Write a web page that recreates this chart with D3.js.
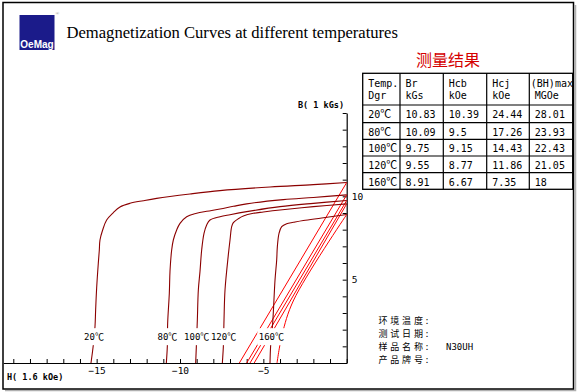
<!DOCTYPE html>
<html>
<head>
<meta charset="utf-8">
<script src="https://cdn.jsdelivr.net/npm/d3@7"></script>
<style>
  body { margin: 0; background: #fff; }
  svg { display: block; }
</style>
</head>
<body>
<div id="chart"></div>
<script>
// temperatures, one curve pair each
var temps = ["20℃", "80℃", "100℃", "120℃", "160℃"];

// intrinsic curves (H in 1.6 kOe, B in kGs)
var intrinsic20 = [[0, 10.83], [-2, 10.7], [-4.6, 10.56], [-7.6, 10.34], [-9.4, 10.14], [-11.4, 9.88],
    [-12.2, 9.74], [-13.0, 9.58], [-13.6, 9.36], [-14.0, 9.02], [-14.4, 8.58], [-14.64, 7.98],
    [-14.8, 7.38], [-14.84, 6.78], [-14.9, 6.0], [-15.0, 4.5], [-15.06, 3.2], [-15.1, 2.18],
    [-15.2, 1.08], [-15.34, 0]];
var intrinsic80 = [[0, 10.09], [-2, 9.93], [-3.8, 9.8], [-6, 9.55], [-6.8, 9.4], [-7.6, 9.24],
    [-8.4, 9.1], [-9.0, 8.98], [-9.6, 8.78], [-10.0, 8.38], [-10.2, 7.98], [-10.4, 7.38],
    [-10.5, 6.78], [-10.6, 5.5], [-10.64, 4.2], [-10.74, 2.4], [-10.76, 1.0], [-10.82, 0]];
var intrinsic100 = [[0, 9.75], [-2, 9.58], [-4, 9.38], [-6, 9.08], [-7, 8.9], [-7.6, 8.78],
    [-8.2, 8.58], [-8.4, 8.28], [-8.56, 7.78], [-8.7, 6.78], [-8.8, 5.5], [-8.9, 4.38],
    [-8.96, 2.58], [-9.02, 0.98], [-9.06, 0]];
var intrinsic120 = [[0, 9.55], [-2, 9.38], [-4, 9.18], [-5, 9.06], [-5.6, 8.98], [-6.2, 8.82],
    [-6.5, 8.66], [-6.8, 8.42], [-6.9, 8.18], [-7.0, 7.38], [-7.1, 6.5], [-7.3, 4.38],
    [-7.36, 2.58], [-7.4, 0.98], [-7.46, 0]];
var intrinsic160 = [[0, 8.91], [-1.5, 8.7], [-2.6, 8.55], [-3.2, 8.44], [-3.6, 8.36], [-3.9, 8.18],
    [-4.06, 7.78], [-4.16, 6.98], [-4.2, 6.18], [-4.3, 4.98], [-4.44, 2.38], [-4.56, 1.08],
    [-4.6, 0]];

// normal curves
var normal20 = [[-6.44, 0], [0, 10.83]];
var normal80 = [[-6.0, 0], [0, 10.09]];
var normal100 = [[-5.8, 0], [0, 9.75]];
var normal120 = [[-5.55, 0], [0, 9.55]];
var normal160 = [[-4.18, 0], [-3.88, 1.68], [-3.18, 3.78], [0, 8.91]];

var xTicks = d3.range(-20, 1);
var xLabels = [-15, -10, -5];
var yTicks = d3.range(0, 16);
var yLabels = [5, 10];

// result table
var tableHead1 = ["Temp.", "Br", "Hcb", "Hcj", "(BH)max"];
var tableHead2 = ["Dgr", "kGs", "kOe", "kOe", "MGOe"];
var colBr = ["10.83", "10.09", "9.75", "9.55", "8.91"];
var colHcb = ["10.39", "9.5", "9.15", "8.77", "6.67"];
var colHcj = ["24.44", "17.26", "14.43", "11.86", "7.35"];
var colBH = ["28.01", "23.93", "22.43", "21.05", "18"];

var infoLabels = ["环境温度:", "测试日期:", "样品名称:", "产品牌号:"];
var infoValues = ["", "", "N30UH", ""];

var w = 577, h = 392;
var mono = "'DejaVu Sans Mono', 'Liberation Mono', monospace";
var cjk = "'Noto Sans CJK SC', sans-serif";

var svg = d3.select("#chart").append("svg")
    .attr("width", w)
    .attr("height", h);

svg.append("rect").attr("width", w).attr("height", h).attr("fill", "#fff");

// frame with a little shadow
svg.append("path")
    .attr("d", "M575.5,5 V390.5 H5")
    .attr("fill", "none").attr("stroke", "#b0b0b0").attr("stroke-width", 1.5);
svg.append("rect")
    .attr("x", 3).attr("y", 2.5).attr("width", 570.5).attr("height", 386.5)
    .attr("fill", "none").attr("stroke", "#000").attr("stroke-width", 1.5);

// logo + title
svg.append("rect").attr("x", 19.5).attr("y", 15).attr("width", 35).attr("height", 35).attr("fill", "#1b1b8a");
svg.append("text").attr("x", 37).attr("y", 47.5).attr("text-anchor", "middle")
    .style("font-family", "'Liberation Sans', Arial, sans-serif").style("font-weight", "bold")
    .style("font-size", "10px").attr("fill", "#fff").text("OeMag");
svg.append("text").attr("x", 55.5).attr("y", 15).style("font-size", "5px").attr("fill", "#888").text("®");
svg.append("text").attr("x", 66.5).attr("y", 38)
    .style("font-family", "'Liberation Serif', 'Times New Roman', serif")
    .style("font-size", "16.6px").attr("fill", "#000")
    .text("Demagnetization Curves at different temperatures");

// scales
var x = d3.scaleLinear().domain([-20.6, 0]).range([3.3, 346.7]);
var y = d3.scaleLinear().domain([0, 15]).range([363, 113]);

var xAxis = svg.append("g").attr("transform", "translate(0," + y(0) + ")");
xAxis.call(d3.axisTop(x).tickValues(xTicks).tickSize(4).tickFormat("").tickSizeOuter(0));
var xLab = svg.append("g").attr("transform", "translate(0," + y(0) + ")");
xLab.call(d3.axisBottom(x).tickValues(xLabels).tickSize(0).tickPadding(4));
xLab.select(".domain").remove();

var yAxis = svg.append("g").attr("transform", "translate(" + x(0) + ",0)");
yAxis.call(d3.axisLeft(y).tickValues(yTicks).tickSize(4).tickFormat("").tickSizeOuter(0));
var yLab = svg.append("g").attr("transform", "translate(" + x(0) + ",0)");
yLab.call(d3.axisRight(y).tickValues(yLabels).tickSize(0).tickPadding(5));
yLab.select(".domain").remove();

svg.selectAll(".domain").attr("stroke", "#000").attr("stroke-width", 1.2);
svg.selectAll(".tick line").attr("stroke", "#000");
svg.selectAll(".tick text").attr("fill", "#000")
    .style("font-family", mono).style("font-size", "9.5px");

svg.append("text").attr("x", 7).attr("y", 380)
    .style("font-family", mono).style("font-size", "8.5px").style("font-weight", "bold")
    .text("H( 1.6 kOe)");
svg.append("text").attr("x", 298).attr("y", 107.5)
    .style("font-family", mono).style("font-size", "8.5px").style("font-weight", "bold")
    .text("B( 1 kGs)");

// curves
var line = d3.line()
    .x(d => x(d[0]))
    .y(d => y(d[1]))
    .curve(d3.curveCatmullRom.alpha(0.5));

var intrinsic = [intrinsic20, intrinsic80, intrinsic100, intrinsic120, intrinsic160];
var normal = [normal20, normal80, normal100, normal120, normal160];

svg.selectAll("path.normal")
    .data(normal)
    .enter()
    .append("path")
    .attr("class", "normal")
    .attr("d", line)
    .attr("fill", "none")
    .attr("stroke", "#ff0000")
    .attr("stroke-width", 1);

svg.selectAll("path.intrinsic")
    .data(intrinsic)
    .enter()
    .append("path")
    .attr("class", "intrinsic")
    .attr("d", line)
    .attr("fill", "none")
    .attr("stroke", "#8b0000")
    .attr("stroke-width", 1.1);

// writes "100" in mono and the ℃ sign in the CJK face, like the bitmap font
function tempText(sel, size) {
    sel.each(function (d) {
        var t = d3.select(this);
        t.append("tspan").style("font-family", mono).text(d.replace("℃", ""));
        t.append("tspan").style("font-family", cjk).style("font-size", size + "px").text("℃");
    });
}

// temperature labels sit on each intrinsic curve near B = 1.6
function hAt(curve, b) {
    for (var i = 1; i < curve.length; i++) {
        var a = curve[i - 1], c = curve[i];
        if (b <= a[1] && b >= c[1]) {
            return a[0] + (c[0] - a[0]) * (a[1] - b) / (a[1] - c[1]);
        }
    }
    return curve[curve.length - 1][0];
}

var labelB = 1.55;
var labels = svg.selectAll("g.tlabel")
    .data(temps)
    .enter()
    .append("g")
    .attr("class", "tlabel")
    .attr("transform", (d, i) => "translate(" + x(hAt(intrinsic[i], labelB)) + "," + y(labelB) + ")");

labels.append("rect")
    .attr("x", d => -(d.length - 1) * 2.7 - 6)
    .attr("y", -9)
    .attr("width", d => (d.length - 1) * 5.4 + 12)
    .attr("height", 17)
    .attr("fill", "#fff");

labels.append("text")
    .attr("text-anchor", "middle")
    .attr("y", 3)
    .style("font-size", "9px")
    .attr("fill", "#000")
    .call(tempText, 9);

// result title
svg.append("text").attr("x", 448).attr("y", 66).attr("text-anchor", "middle")
    .style("font-family", cjk).style("font-size", "16px").attr("fill", "#d40000")
    .text("测量结果");

// table
var colX = [362.7, 400, 443.3, 486.7, 529.3, 572.7];
var rowY = [73.3, 105, 122.7, 139.3, 156, 172.7, 189.3];
var tbl = svg.append("g");

tbl.append("rect")
    .attr("x", colX[0]).attr("y", rowY[0])
    .attr("width", colX[5] - colX[0]).attr("height", rowY[6] - rowY[0])
    .attr("fill", "none").attr("stroke", "#000").attr("stroke-width", 1.3);

tbl.selectAll("line.col")
    .data(colX.slice(1, 5))
    .enter().append("line")
    .attr("x1", d => d).attr("x2", d => d)
    .attr("y1", rowY[0]).attr("y2", rowY[6])
    .attr("stroke", "#000").attr("stroke-width", 1.2);

tbl.selectAll("line.row")
    .data(rowY.slice(1, 6))
    .enter().append("line")
    .attr("x1", colX[0]).attr("x2", colX[5])
    .attr("y1", d => d).attr("y2", d => d)
    .attr("stroke", "#000").attr("stroke-width", 1.2);

var cellFont = function (sel) {
    sel.style("font-family", mono).style("font-size", "10px").attr("fill", "#000");
};

tbl.selectAll("text.h1")
    .data(tableHead1)
    .enter().append("text")
    .attr("x", (d, i) => colX[i] + (i === 4 ? 1.5 : 5.5))
    .attr("y", 86.5)
    .call(cellFont)
    .text(d => d);

tbl.selectAll("text.h2")
    .data(tableHead2)
    .enter().append("text")
    .attr("x", (d, i) => colX[i] + 5.5)
    .attr("y", 98.5)
    .call(cellFont)
    .text(d => d);

tbl.selectAll("text.c0")
    .data(temps)
    .enter().append("text")
    .attr("class", "c0")
    .attr("x", colX[0] + 5.5)
    .attr("y", (d, ri) => rowY[ri + 1] + 12.8)
    .call(cellFont)
    .call(tempText, 11);

var columns = [colBr, colHcb, colHcj, colBH];
columns.forEach(function (col, ci) {
    tbl.selectAll("text.c" + (ci + 1))
        .data(col)
        .enter().append("text")
        .attr("class", "c" + (ci + 1))
        .attr("x", colX[ci + 1] + 5.5)
        .attr("y", (d, ri) => rowY[ri + 1] + 12.8)
        .call(cellFont)
        .text(d => d);
});

// sample info
var infoY = (d, i) => 323.8 + i * 13.1;
var info = svg.append("g");
info.selectAll("text.lab")
    .data(infoLabels)
    .enter().append("text")
    .attr("class", "lab")
    .attr("x", 378.5)
    .attr("y", infoY)
    .style("font-family", cjk).style("font-size", "9px")
    .style("letter-spacing", "2.8px").attr("fill", "#000")
    .text(d => d);

info.selectAll("text.val")
    .data(infoValues)
    .enter().append("text")
    .attr("class", "val")
    .attr("x", 446)
    .attr("y", infoY)
    .style("font-family", mono).style("font-size", "9px").attr("fill", "#000")
    .text(d => d);
</script>
</body>
</html>
